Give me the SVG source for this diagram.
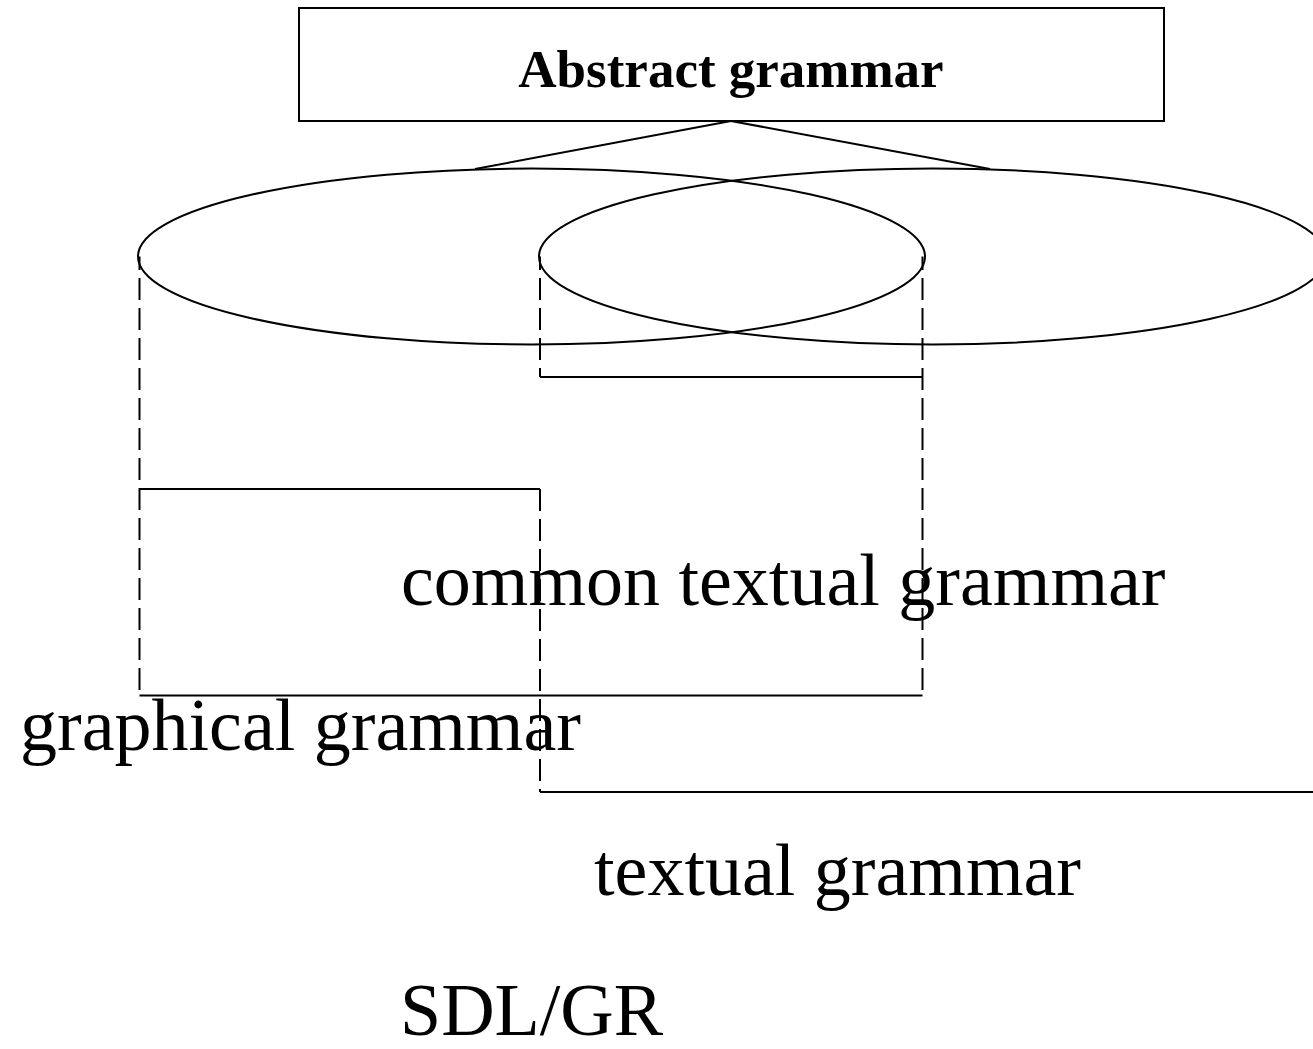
<svg xmlns="http://www.w3.org/2000/svg" width="1313" height="1049" viewBox="0 0 1313 1049">
  <style>
    .box { fill: #ffffff; stroke: #000000; stroke-width: 2; }
    .oval { fill: none; stroke: #000000; stroke-width: 2; }
    .solid { fill: none; stroke: #000000; stroke-width: 2; }
    .dash { fill: none; stroke: #000000; stroke-width: 2; stroke-dasharray: 22 8; }
    .title { font-family: "Liberation Serif", "Times New Roman", serif; font-size: 53px; font-weight: bold; fill: #000000; }
    .label { font-family: "Liberation Serif", "Times New Roman", serif; font-size: 74px; fill: #000000; }
  </style>

  <rect width="1313" height="1049" fill="#ffffff"/>

  <!-- root node -->
  <g id="abstract-grammar">
    <rect class="box" x="299" y="8" width="865" height="113"/>
    <text class="title" x="731" y="87" text-anchor="middle">Abstract grammar</text>
  </g>

  <!-- two overlapping grammar sets -->
  <g id="graphical-set">
    <ellipse class="oval" cx="531.5" cy="256.5" rx="393.5" ry="88"/>
  </g>
  <g id="textual-set">
    <ellipse class="oval" cx="932.5" cy="256.5" rx="393.5" ry="88"/>
  </g>

  <!-- connectors: links from the root and projections of the sets -->
  <g id="connectors">
    <line class="solid" x1="731" y1="121" x2="475" y2="169"/>
    <line class="solid" x1="731" y1="121" x2="990" y2="169"/>

    <!-- vertical projections -->
    <line class="dash" x1="139.5" y1="256.5" x2="139.5" y2="695.5" stroke-dashoffset="8.5"/>
    <line class="dash" x1="922.5" y1="256.5" x2="922.5" y2="695.5" stroke-dashoffset="8.5"/>
    <line class="dash" x1="540" y1="256.5" x2="540" y2="377" stroke-dashoffset="8.5"/>
    <line class="dash" x1="540" y1="489" x2="540" y2="792"/>

    <!-- horizontal brackets -->
    <line class="solid" x1="540" y1="377" x2="922.5" y2="377"/>
    <line class="solid" x1="139.5" y1="489" x2="540" y2="489"/>
    <line class="solid" x1="139.5" y1="695.5" x2="922.5" y2="695.5"/>
    <line class="solid" x1="540" y1="792" x2="1313" y2="792"/>
  </g>

  <!-- labels -->
  <g id="common-textual-grammar">
    <text class="label" x="401" y="605">common textual grammar</text>
  </g>
  <g id="graphical-grammar">
    <text class="label" x="20" y="750">graphical grammar</text>
  </g>
  <g id="textual-grammar">
    <text class="label" x="594" y="895">textual grammar</text>
  </g>
  <g id="sdl-gr">
    <text class="label" x="400" y="1035">SDL/GR</text>
  </g>
</svg>
